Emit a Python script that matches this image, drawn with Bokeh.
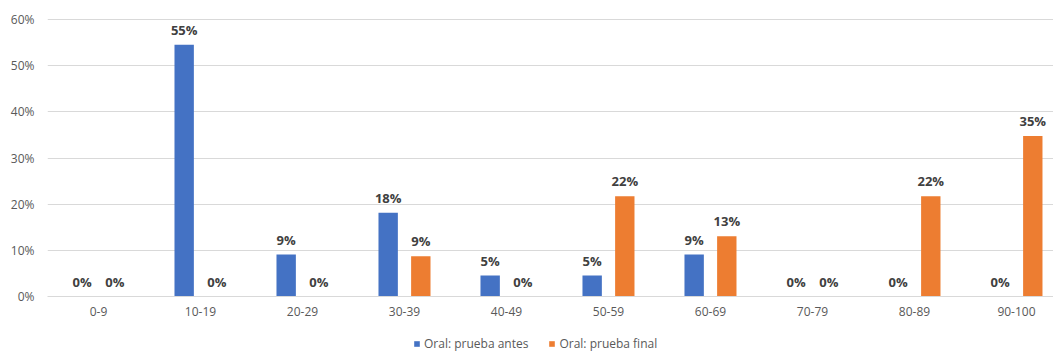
from bokeh.plotting import figure
from bokeh.layouts import column
from bokeh.models import (ColumnDataSource, Range1d, FixedTicker, NumeralTickFormatter, Legend,
                          LegendItem)
from bokeh.transform import dodge
from bokeh.core.properties import value
from bokeh.embed import file_html
from bokeh.resources import INLINE

categories = ["0-9", "10-19", "20-29", "30-39", "40-49", "50-59", "60-69", "70-79", "80-89", "90-100"]
antes = [0.0, 0.5455, 0.0909, 0.1818, 0.0455, 0.0455, 0.0909, 0.0, 0.0, 0.0]
final = [0.0, 0.0, 0.0, 0.087, 0.0, 0.2174, 0.1304, 0.0, 0.2174, 0.3478]
series_names = ["Oral: prueba antes", "Oral: prueba final"]
y_ticks = [0, 0.1, 0.2, 0.3, 0.4, 0.5, 0.6]

FONT = "Open Sans"
BLUE = "#4472C4"
ORANGE = "#ED7D31"
colors = [BLUE, ORANGE]

xs = list(range(len(categories)))
src = ColumnDataSource(dict(
    x=xs,
    antes=antes,
    final=final,
    antes_lbl=[f"{round(v * 100)}%" for v in antes],
    final_lbl=[f"{round(v * 100)}%" for v in final],
))

p = figure(width=1053, height=330, output_backend="svg", toolbar_location=None,
           x_range=Range1d(-0.5, 9.363), y_range=Range1d(0, 0.62),
           min_border_left=47, min_border_right=0, min_border_top=10, min_border_bottom=34)
p.outline_line_color = None
p.background_fill_color = "white"
p.border_fill_color = "white"

p.vbar(x=dodge("x", -0.16, range=p.x_range), top="antes", width=0.19, source=src,
       fill_color=BLUE, line_color=None)
p.vbar(x=dodge("x", 0.16, range=p.x_range), top="final", width=0.19, source=src,
       fill_color=ORANGE, line_color=None)

for col, off in (("antes", -0.16), ("final", 0.16)):
    p.text(x=dodge("x", off, range=p.x_range), y=col, text=col + "_lbl", source=src,
           text_align="center", text_baseline="bottom", y_offset=-6,
           text_font=value(FONT), text_font_size="13px", text_font_style="bold",
           text_color="#404040")

p.xgrid.grid_line_color = None
p.ygrid.grid_line_color = "#d9d9d9"
p.ygrid.grid_line_width = 1

p.yaxis.ticker = FixedTicker(ticks=y_ticks)
p.yaxis.formatter = NumeralTickFormatter(format="0%")
p.yaxis.axis_line_color = None
p.yaxis.major_tick_line_color = None
p.yaxis.minor_tick_line_color = None
p.yaxis.major_tick_out = 0
p.yaxis.major_label_standoff = 13
p.yaxis.major_label_text_font = FONT
p.yaxis.major_label_text_font_size = "12px"
p.yaxis.major_label_text_color = "#595959"

p.xaxis.ticker = FixedTicker(ticks=xs)
p.xaxis.major_label_overrides = {i: c for i, c in enumerate(categories)}
p.xaxis.axis_line_color = "#d9d9d9"
p.xaxis.major_tick_line_color = None
p.xaxis.minor_tick_line_color = None
p.xaxis.major_tick_out = 0
p.xaxis.major_label_standoff = 10
p.xaxis.major_label_text_font = FONT
p.xaxis.major_label_text_font_size = "12px"
p.xaxis.major_label_text_color = "#595959"

# legend strip below the chart (swatch renderers are zero-height, hence invisible)
lg = figure(width=1053, height=22, output_backend="svg", toolbar_location=None,
            x_axis_type=None, y_axis_type=None, min_border=0,
            x_range=Range1d(-0.5, 9.363), y_range=Range1d(0, 1))
lg.outline_line_color = None
lg.xgrid.visible = False
lg.ygrid.visible = False
swatches = [lg.vbar(x="x", top=col, bottom=col, width=0.19, source=src,
                    fill_color=c, line_color=None)
            for col, c in zip(["antes", "final"], colors)]
legend = Legend(items=[LegendItem(label=n, renderers=[r]) for n, r in zip(series_names, swatches)],
                orientation="horizontal", location=(366, 0),
                glyph_width=7, glyph_height=7, label_standoff=4, spacing=20,
                padding=0, margin=0, border_line_color=None, background_fill_alpha=0,
                label_text_font=FONT, label_text_font_size="12px", label_text_color="#595959",
                label_height=14)
lg.add_layout(legend, "center")

layout = column(p, lg, spacing=0)
open("out.html", "w").write(file_html(layout, INLINE))
